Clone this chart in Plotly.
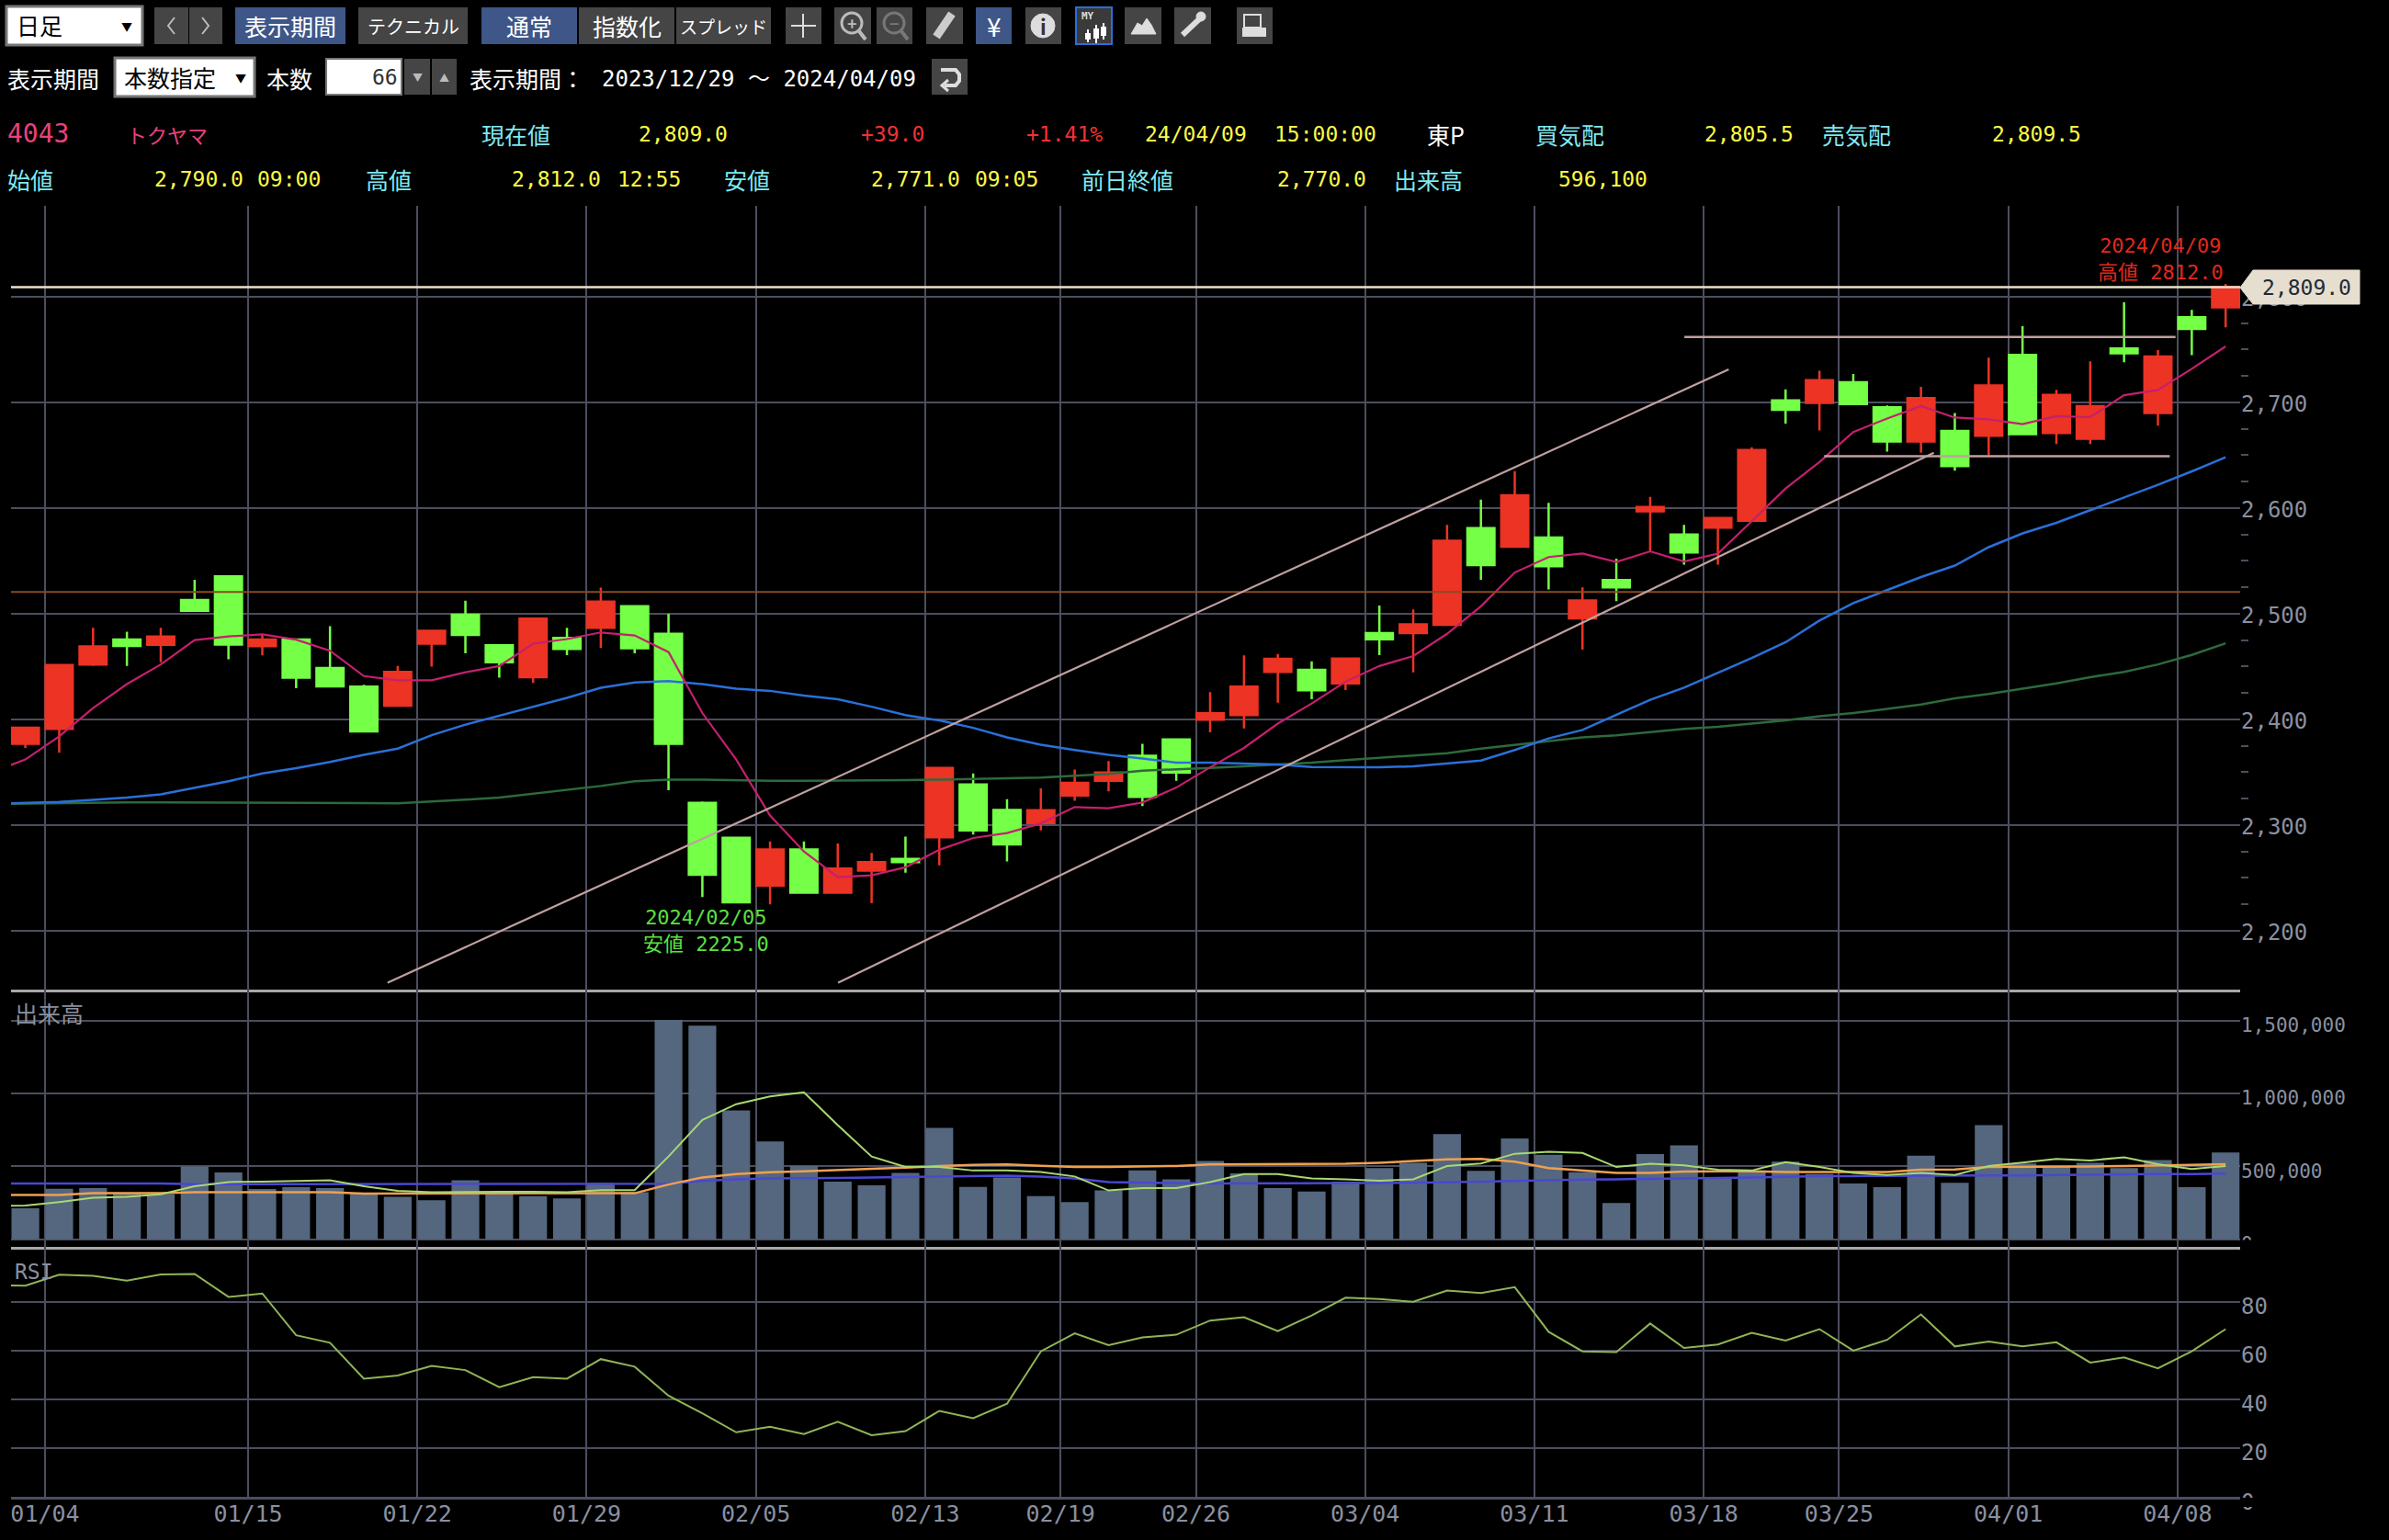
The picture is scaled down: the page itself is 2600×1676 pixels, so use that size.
import plotly.graph_objects as go

W, H = 2600, 1676
FONT = "Noto Sans CJK JP"
MONO = "DejaVu Sans Mono, Noto Sans CJK JP"

# ---------- data ----------
open_ = [2376.8,2391,2452,2475.5,2470.5,2513,2535.4,2469.3,2475.5,2448.7,2431,2413,2471.7,2499,2470.2,2439.9,2477,2486.7,2507,2481,
         2321,2288,2242.7,2277,2236,2257,2268,2288.4,2338.5,2314.3,2302,2328,2342,2365.6,2381,2399.8,2404,2445,2447,2434,
         2481.7,2481.7,2489.4,2581,2563.4,2572,2495.6,2531.8,2596.8,2575,2581.5,2588,2701.8,2699.4,2719,2695.3,2663,2673,2668.5,2745,
         2671,2665.6,2751,2690,2780.6,2790]
high = [2392.1,2451.4,2486.7,2483,2486.7,2532,2535.4,2480.5,2475.5,2488.2,2432.8,2450.5,2483.8,2512.4,2470.2,2495.3,2486.7,2524.8,2507,2500,
        2322.3,2288,2284.6,2284.6,2282.5,2273.7,2289,2354,2348.8,2324.6,2334.7,2352.6,2360.6,2376.8,2381,2425.7,2460.5,2462,2455,2457.6,
        2507.7,2504,2584,2608,2635,2605,2525,2552,2610.6,2584,2590.6,2657.6,2712.4,2730,2726.8,2697,2714.7,2690,2742.4,2772,
        2711.8,2738.8,2794.7,2749.4,2787.6,2812]
low = [2373,2368.5,2450.5,2450.5,2454,2502.7,2457,2460.5,2429.6,2431,2387.7,2412,2450,2462.6,2439.6,2434.6,2460.8,2467.6,2462.6,2333,
       2232,2227,2225,2236,2235,2226,2255,2262,2291,2265.7,2295,2323,2332,2318,2342,2387.7,2391.5,2415.7,2419,2427.8,
       2460.8,2444.6,2489,2532,2563,2523,2466,2511.8,2558.8,2546.5,2546.5,2588,2680,2673.5,2697.4,2653.5,2652.4,2635.3,2650,2669,
       2660.6,2660.6,2738,2678,2744.7,2771]
close = [2392.1,2451.4,2469,2469.6,2478.5,2502.7,2470.8,2475.5,2439.6,2431.3,2388.6,2444.9,2483.8,2480,2454,2495.3,2466.7,2511.5,2467.3,2376.8,
         2253,2227,2277,2236,2258.8,2265,2265,2354,2295,2281.6,2314,2340,2349.7,2326.7,2349.7,2405.7,2431,2457.3,2427.5,2457.6,
         2475.8,2490,2569,2546,2612,2545,2512.6,2525,2601,2558,2590.6,2655,2693,2721,2698.5,2663,2704,2639.7,2716,2670,
         2707,2696.5,2746.5,2743.5,2769.4,2809]

# moving averages start one bar left of the first candle (clipped at the plot edge)
ma_short = [2350,2362,2384,2410.7,2433.4,2452,2475,2478.5,2480.5,2475.5,2465,2441,2437,2437,2444.6,2450.5,2471.7,2476,2482.3,2479.4,2463.7,
            2406,2362,2309,2275,2250.7,2252.4,2260,2276.6,2287.8,2292.5,2301.6,2317,2316,2321.4,2335.5,2354.6,2373,2396,2415,2435.7,
            2450.5,2460,2481,2507,2539,2553.6,2557,2549,2559,2549.4,2556.8,2587.6,2618.5,2643.5,2672,2684.7,2696.5,2685.6,2684,2679.4,
            2687,2686,2706.8,2711.8,2731.8,2753]
ma_mid = [2320,2320.8,2322,2323.8,2326,2329,2335,2341.4,2348.8,2353.8,2359.7,2366.5,2372.4,2385,2395,2403.3,2412,2420.4,2430,2435,2436.3,
          2433.4,2429,2427,2422.5,2419,2412,2404,2399,2392,2383,2376,2371,2366.5,2363,2359,2359,2358.5,2357.4,2355,2355,
          2354.7,2355.6,2358,2361,2371,2382,2390,2404,2418.5,2430,2444,2458,2473,2493.5,2510,2522.4,2534.7,2545.6,2563,2576,
          2586,2598,2609.7,2622,2634.7,2648]
ma_long = [2320,2320.5,2321,2321.4,2321.4,2321.4,2321.4,2321.4,2321.4,2321.4,2321,2320.8,2320.5,2322,2324,2326,2329.6,2333,2337,2341.4,2343,
           2343,2342.3,2342,2342,2342,2342,2342.6,2343,2343.5,2344,2345,2346.7,2348.5,2351.5,2352.6,2354,2355.6,2357,2359,2361.5,
           2363.5,2366,2368,2372.4,2376,2379,2383,2385,2388,2391,2393,2396,2399,2403,2406,2410,2414,2420,2424,2429,
           2434,2440,2445,2452,2461,2472]

volume = [213000,347000,352000,316000,309000,500000,458000,345000,357000,352000,316000,292000,268000,405000,316000,297000,280000,388000,323000,1505000,
          1466000,884000,671000,505000,395000,371000,455000,764000,359000,424000,297000,256000,335000,472000,412000,537000,453000,352000,328000,395000,
          489000,525000,721000,470000,692000,580000,460000,249000,585000,645000,424000,472000,532000,448000,383000,357000,573000,388000,783000,520000,
          496000,525000,489000,544000,357000,596100]
vol_ma_short = [228000,232000,256000,285000,292000,309000,364000,393000,395000,400000,405000,364000,333000,323000,326000,326000,326000,323000,338000,338000,568000,
                819000,927000,980000,1009000,783000,568000,496000,496000,472000,472000,462000,431000,335000,352000,352000,393000,448000,448000,417000,412000,
                402000,412000,503000,520000,587000,601000,592000,496000,518000,508000,477000,472000,530000,496000,455000,441000,455000,441000,503000,527000,
                551000,541000,563000,515000,482000,503000]
vol_ma_mid = [304000,304000,304000,316000,316000,316000,323000,323000,323000,323000,323000,314000,314000,314000,314000,314000,314000,314000,314000,316000,376000,
              424000,448000,460000,467000,477000,484000,491000,503000,510000,513000,505000,496000,496000,500000,503000,513000,515000,518000,518000,518000,
              525000,537000,549000,551000,532000,489000,472000,455000,455000,465000,467000,467000,462000,462000,460000,462000,477000,479000,496000,496000,
              498000,500000,503000,505000,510000,515000]
vol_ma_long = [383000,383000,383000,383000,383000,383000,378000,378000,378000,378000,378000,378000,378000,378000,378000,378000,378000,378000,378000,378000,381000,
               400000,412000,417000,417000,421000,424000,426000,431000,433000,436000,431000,417000,393000,388000,386000,383000,383000,383000,383000,383000,
               386000,388000,390000,395000,400000,407000,410000,412000,414000,417000,419000,424000,429000,434000,434000,436000,436000,436000,438000,438000,
               441000,443000,446000,448000,448000,450000]
rsi = [86.9,86.6,91.1,90.6,88.7,91.2,91.4,82,83.4,66.3,63.2,48.5,49.8,53.7,52,45,49.1,48.5,56.5,53.4,41.5,
       34.3,26.5,28.8,25.8,30.8,25.3,27,35.3,32.3,38.2,59.7,67.1,62.2,65.4,66.5,72.3,73.7,68,74.4,81.7,
       81.1,80,84.6,83.6,86,67.7,59.7,59.4,71.1,61.1,62.5,67.3,64.1,68.8,60,64.4,74.8,61.7,63.7,61.7,
       63.4,55.1,57.2,52.7,59.7,68.8]

tick_bars = [1,7,12,17,22,27,31,35,40,45,50,54,59,64]
tick_labels = ["01/04","01/15","01/22","01/29","02/05","02/13","02/19","02/26","03/04","03/11","03/18","03/25","04/01","04/08"]
price_ticks = [2200,2300,2400,2500,2600,2700,2800]
price_minor = [2225,2250,2275,2325,2350,2375,2425,2450,2475,2525,2550,2575,2625,2650,2675,2725,2750,2775]
vol_ticks = [0,500000,1000000,1500000]
rsi_ticks = [0,20,40,60,80]

# drawn trend lines: (bar, price) end points
channel_upper = ([10.70,50.32],[2150.8,2731.2])
channel_lower = ([24.01,56.38],[2150.8,2652.4])
range_upper = ([49.01,63.52],[2761.8,2761.8])
range_lower = ([53.14,63.35],[2649,2649])
resistance_price = 2520.6
last_price = 2809

# ---------- style ----------
GRID = "#4b4e5e"
TXT_GRAY = "#8a90a0"
CYAN = "#7fe9f2"
YEL = "#fbfb45"
BTN = "#454545"
BLUE_BTN = "#3e5688"
TREND = "#c0a0a0"
PX_X0, PX_X1 = 12, 2438
BAR0, BAR_STEP = 27.6, 36.84

def fx(x): return x / W
def fy(y): return 1 - y / H

bars = list(range(len(close)))
bars_ma = list(range(-1, len(close)))
xrange_ = [(PX_X0 - BAR0) / BAR_STEP, (PX_X1 - BAR0) / BAR_STEP]
tickx = [b - 0.42 for b in tick_bars]

fig = go.Figure()

fig.add_trace(go.Candlestick(x=bars, open=open_, high=high, low=low, close=close,
    xaxis="x", yaxis="y", whiskerwidth=0,
    increasing=dict(line=dict(color="#ec3324", width=2.5), fillcolor="#ec3324"),
    decreasing=dict(line=dict(color="#75ff47", width=2.5), fillcolor="#75ff47")))

def line(x, y, color, width=2, xa="x", ya="y"):
    fig.add_trace(go.Scatter(x=x, y=y, mode="lines", line=dict(color=color, width=width),
                             xaxis=xa, yaxis=ya, hoverinfo="skip"))

line(bars_ma, ma_long, "#2c6a3c", 2.5)
line(bars_ma, ma_mid, "#2a70d8", 2.5)
line(bars_ma, ma_short, "#c4206e", 2.2)
line([xrange_[0], xrange_[1]], [resistance_price]*2, "#8a4a1e", 2)
line(*channel_upper, TREND, 2.2)
line(*channel_lower, TREND, 2.2)
line(*range_upper, TREND, 2.5)
line(*range_lower, TREND, 2.5)
line([xrange_[0], xrange_[1]], [last_price]*2, "#eae2cc", 2.5)

fig.add_trace(go.Bar(x=bars, y=volume, xaxis="x2", yaxis="y2", width=0.82,
                     marker=dict(color="#54677f", line=dict(width=0)), hoverinfo="skip"))
line(bars_ma, vol_ma_long, "#4a48d0", 2.5, "x2", "y2")
line(bars_ma, vol_ma_mid, "#f0a050", 2.5, "x2", "y2")
line(bars_ma, vol_ma_short, "#a8d870", 2, "x2", "y2")
line(bars_ma, rsi, "#90b455", 2, "x3", "y3")

# ---------- axes ----------
def xaxis(anchor, linecolor, labels=False):
    return dict(domain=[fx(PX_X0), fx(PX_X1)], range=xrange_, anchor=anchor, tickmode="array", automargin=False,
                tickvals=tickx, ticktext=tick_labels if labels else [""]*len(tickx),
                showticklabels=labels, showgrid=True, gridcolor=GRID, gridwidth=2, zeroline=False,
                showline=True, linecolor=linecolor, linewidth=2.5, ticks="", rangeslider=dict(visible=False),
                ticklabelstandoff=-6, tickfont=dict(family=MONO, size=25, color=TXT_GRAY))

def yaxis(anchor, dom, rng, vals, text, size, shift, minor=None):
    d = dict(domain=dom, range=rng, anchor=anchor, side="right", tickmode="array", tickvals=vals, ticktext=text,
             automargin=False, showgrid=True, gridcolor=GRID, gridwidth=2, zeroline=False, showline=False, ticks="",
             ticklabelshift=shift, tickfont=dict(family=MONO, size=size, color=TXT_GRAY))
    if minor:
        d["minor"] = dict(tickmode="array", tickvals=minor, ticks="outside", ticklen=8, tickwidth=2,
                          tickcolor=GRID, showgrid=False)
    return d

fig.update_layout(
    width=W, height=H, margin=dict(l=0, r=0, t=0, b=0), autosize=False,
    paper_bgcolor="#000000", plot_bgcolor="#000000", showlegend=False, boxgap=0.2, boxgroupgap=0,
    font=dict(family=FONT),
    xaxis=xaxis("y", "#a8a8a8"), xaxis2=xaxis("y2", "#a8a8a8"), xaxis3=xaxis("y3", GRID, True),
    yaxis=yaxis("x", [fy(1077), fy(224)], [2144.3, 2886], price_ticks, [f"{v:,}" for v in price_ticks], 24, 2, price_minor),
    yaxis2=yaxis("x2", [fy(1357), fy(1077)], [-52000, 1713000], vol_ticks, [f"{v:,}" for v in vol_ticks], 21, 5),
    yaxis3=yaxis("x3", [fy(1629.2), fy(1357)], [0, 102.5], rsi_ticks, [str(v) for v in rsi_ticks], 24, 5),
)

# ---------- chrome ----------
shapes, notes = [], []

def rect(x0, y0, x1, y1, fill, outline=None, lw=0):
    shapes.append(dict(type="rect", xref="paper", yref="paper", x0=fx(x0), x1=fx(x1), y0=fy(y1), y1=fy(y0),
                       fillcolor=fill, line=dict(color=outline or fill, width=lw), layer="above"))

def path(pts, color, lw=2, fill=None, close_=False):
    d = "M " + " L ".join(f"{fx(x):.5f},{fy(y):.5f}" for x, y in pts) + (" Z" if close_ else "")
    shapes.append(dict(type="path", xref="paper", yref="paper", path=d, fillcolor=fill or "rgba(0,0,0,0)",
                       line=dict(color=color, width=lw), layer="above"))

def circle(cx, cy, r, fill, outline, lw=3):
    shapes.append(dict(type="circle", xref="paper", yref="paper", x0=fx(cx-r), x1=fx(cx+r), y0=fy(cy+r), y1=fy(cy-r),
                       fillcolor=fill, line=dict(color=outline, width=lw), layer="above"))

def text(x, y, s, color="#ffffff", size=None, anchor="left", bold=False, family=None):
    latin = s.isascii() or family == MONO
    size = size or (23 if latin else 25)
    notes.append(dict(xref="paper", yref="paper", x=fx(x), y=fy(y), text=f"<b>{s}</b>" if bold else s,
                      showarrow=False, xanchor=anchor, yanchor="middle", borderpad=0, borderwidth=0,
                      font=dict(family=family or (MONO if latin else FONT), size=size, color=color)))

def button(x0, x1, label=None, fill=BTN, size=25, y0=8, y1=48):
    rect(x0, y0, x1, y1, fill)
    if label:
        text((x0+x1)/2, (y0+y1)/2, label, "#ffffff", size, "center")

# row 1
rect(7, 7, 155, 49, "#ffffff", "#777777", 3)
text(18, 27, "日足", "#000000", 25)
text(138, 28, "▼", "#000000", 12, "center")
button(168, 205); button(206, 242)
path([(190, 19), (183, 28), (190, 37)], "#bbbbbb", 2)
path([(220, 19), (227, 28), (220, 37)], "#bbbbbb", 2)
button(256, 376, "表示期間", BLUE_BTN, 25)
button(390, 509, "テクニカル", BTN, 20)
button(524, 628, "通常", BLUE_BTN, 25)
button(630, 734, "指数化", BTN, 25)
button(736, 839, "スプレッド", BTN, 19)
button(855, 894)
path([(874, 15), (874, 41)], "#dddddd", 2); path([(861, 28), (888, 28)], "#dddddd", 2)
button(908, 948)
circle(927, 25, 11, "rgba(0,0,0,0)", "#bbbbbb", 3); text(927, 25, "+", "#bbbbbb", 18, "center", True, FONT)
path([(935, 34), (942, 43)], "#bbbbbb", 4)
button(954, 993)
circle(973, 25, 11, "rgba(0,0,0,0)", "#777777", 3); text(973, 25, "−", "#777777", 18, "center", True, FONT)
path([(981, 34), (988, 43)], "#777777", 4)
button(1008, 1048)
path([(1019, 40), (1036, 15)], "#cccccc", 9)
button(1062, 1101, "¥", BLUE_BTN, 28)
button(1116, 1155)
circle(1135, 28, 13, "#dddddd", "#dddddd", 1); text(1135, 28, "i", "#333333", 22, "center", True, FONT)
rect(1171, 8, 1210, 48, "#3a3a3a", "#2a70d8", 2)
text(1184, 18, "MY", "#dddddd", 11, "center", True)
path([(1193, 27), (1193, 47)], "#ffffff", 2); path([(1184, 32), (1184, 46)], "#ffffff", 2); path([(1201, 25), (1201, 43)], "#ffffff", 2)
rect(1190, 31, 1196, 42, "#ffffff"); rect(1181, 36, 1187, 43, "#ffffff"); rect(1198, 29, 1204, 39, "#ffffff")
button(1224, 1264)
path([(1231, 37), (1238, 25), (1243, 28), (1248, 20), (1253, 27), (1258, 37)], "#dddddd", 1, "#dddddd", True)
button(1278, 1318)
path([(1287, 38), (1306, 20)], "#dddddd", 6); circle(1307, 18, 5, "#dddddd", "#dddddd", 1)
button(1346, 1385)
rect(1354, 16, 1372, 30, "#444444", "#dddddd", 2); rect(1352, 30, 1378, 40, "#dddddd")
# row 2
text(8, 85, "表示期間", "#ffffff", 25)
rect(125, 63, 277, 105, "#ffffff", "#777777", 3)
text(135, 84, "本数指定", "#000000", 25)
text(262, 84, "▼", "#000000", 12, "center")
text(290, 85, "本数", "#ffffff", 25)
rect(355, 64, 437, 103, "#ffffff", "#777777", 2)
text(433, 84, "66", "#333333", 23, "right")
button(440, 468, None, BTN, y0=64, y1=103); text(454, 84, "▼", "#bbbbbb", 11, "center")
button(470, 497, None, BTN, y0=64, y1=103); text(483, 84, "▲", "#bbbbbb", 11, "center")
text(511, 85, "表示期間：", "#ffffff", 25)
text(655, 86, "2023/12/29 ～ 2024/04/09", "#ffffff", 24, family=MONO)
button(1014, 1053, None, BTN, y0=64, y1=103)
path([(1024, 76), (1040, 76), (1044, 81), (1044, 88), (1040, 93), (1028, 93)], "#dddddd", 4)
path([(1032, 87), (1025, 93), (1032, 99)], "#dddddd", 3)
# row 3
row3 = 146
text(8, row3, "4043", "#e8427c", 28)
text(138, row3, "トクヤマ", "#e8427c", 22)
text(524, row3, "現在値", CYAN)
text(695, row3, "2,809.0", YEL)
text(937, row3, "+39.0", "#f03232")
text(1117, row3, "+1.41%", "#f03232")
text(1246, row3, "24/04/09", YEL)
text(1387, row3, "15:00:00", YEL)
text(1553, row3, "東P", "#ffffff")
text(1671, row3, "買気配", CYAN)
text(1855, row3, "2,805.5", YEL)
text(1983, row3, "売気配", CYAN)
text(2168, row3, "2,809.5", YEL)
# row 4
row4 = 195
text(8, row4, "始値", CYAN); text(168, row4, "2,790.0", YEL); text(280, row4, "09:00", YEL)
text(398, row4, "高値", CYAN); text(557, row4, "2,812.0", YEL); text(672, row4, "12:55", YEL)
text(788, row4, "安値", CYAN); text(948, row4, "2,771.0", YEL); text(1061, row4, "09:05", YEL)
text(1177, row4, "前日終値", CYAN); text(1390, row4, "2,770.0", YEL)
text(1517, row4, "出来高", CYAN); text(1696, row4, "596,100", YEL)

# panel labels and price notes
text(16, 1102, "出来高", TXT_GRAY, 25)
text(16, 1384, "RSI", TXT_GRAY, 23)
text(768, 1013, "2024/02/05<br>安値 2225.0", "#5ce040", 22, "center", family=MONO)
text(2351, 282, "2024/04/09<br>高値 2812.0", "#e0281c", 22, "center", family=MONO)

# last-price tag and clipped zero labels
path([(2438, 313), (2452, 294), (2568, 294), (2568, 331), (2452, 331)], "#e6dfcf", 1, "#e6dfcf", True)
text(2510, 313, "2,809.0", "#222a38", 23, "center")
rect(2440, 1349.5, 2480, 1375, "#000000")
rect(2440, 1630, 2480, 1640, "#000000")

fig.update_layout(shapes=shapes, annotations=notes)
fig.write_html("out.html", config=dict(displayModeBar=False),
               post_script="document.body.style.margin='0';document.body.style.background='#000';")
